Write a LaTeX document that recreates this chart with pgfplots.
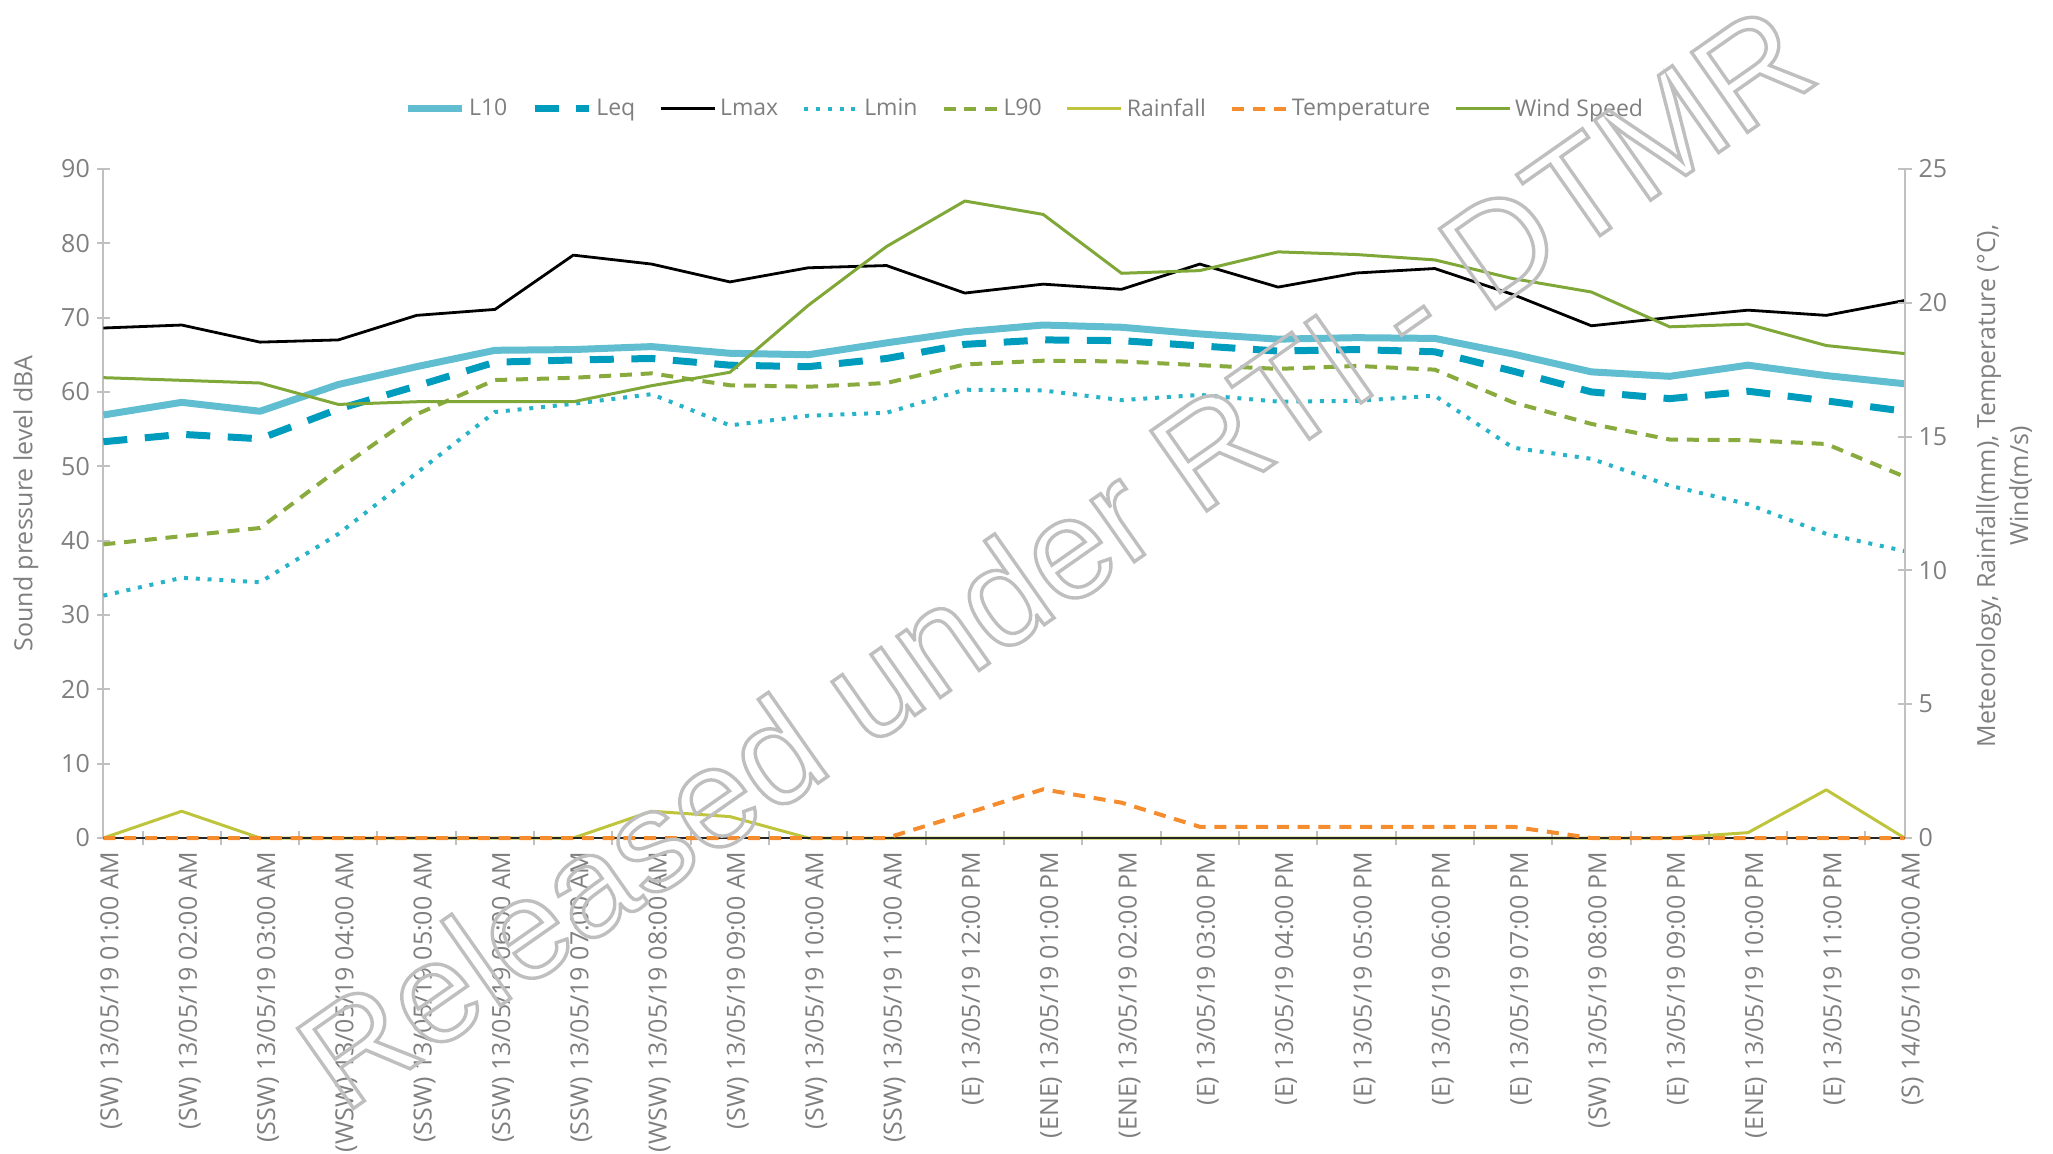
\documentclass[border=0pt]{standalone}
\usepackage{fontspec}
\setmainfont{Open Sans}
\newfontfamily\wmfont{Liberation Sans}
\usepackage{pgfplots}
\pgfplotsset{compat=1.18}
\usepackage{pgfplotstable}
\definecolor{cL10}{HTML}{60BED0}
\definecolor{cLeq}{HTML}{009CBE}
\definecolor{cLmin}{HTML}{28B4C8}
\definecolor{cL90}{HTML}{89AA3C}
\definecolor{cWind}{HTML}{80A838}
\definecolor{cRain}{HTML}{BEC43C}
\definecolor{cTemp}{HTML}{F58C2D}
\definecolor{axisgray}{HTML}{C0C0C0}
\definecolor{labgray}{HTML}{7F7F7F}
\definecolor{wmgray}{HTML}{BFBFBF}
\pgfplotstableread{
i L10 Leq Lmax Lmin L90 Rain Temp Wind
0 56.9 53.3 68.6 32.6 39.5 0 0 17.2
1 58.6 54.3 69.0 35.0 40.6 1.0 0 17.1
2 57.4 53.7 66.7 34.4 41.7 0 0 17.0
3 61.0 57.7 67.0 40.9 49.6 0 0 16.2
4 63.4 60.8 70.3 49.1 57.0 0 0 16.3
5 65.6 64.0 71.1 57.3 61.6 0 0 16.3
6 65.7 64.3 78.4 58.4 61.9 0 0 16.3
7 66.1 64.5 77.2 59.7 62.5 1.0 0 16.9
8 65.2 63.6 74.8 55.5 60.9 0.8 0 17.4
9 65.0 63.4 76.7 56.8 60.7 0 0 19.9
10 66.6 64.5 77.0 57.2 61.2 0 0 22.1
11 68.1 66.4 73.3 60.3 63.7 0 0.9 23.8
12 69.0 67.0 74.5 60.2 64.2 0 1.82 23.3
13 68.7 66.9 73.8 58.9 64.1 0 1.32 21.1
14 67.8 66.2 77.2 59.6 63.6 0 0.42 21.2
15 67.1 65.5 74.1 58.7 63.1 0 0.42 21.9
16 67.3 65.7 76.0 58.8 63.5 0 0.42 21.8
17 67.2 65.4 76.6 59.5 63.0 0 0.42 21.6
18 65.1 62.8 73.1 52.5 58.6 0 0.42 20.9
19 62.7 60.0 68.9 51.0 55.7 0 0 20.4
20 62.1 59.1 70.0 47.4 53.6 0 0 19.1
21 63.6 60.1 71.0 44.9 53.5 0.2 0 19.2
22 62.2 58.8 70.3 40.9 53.0 1.8 0 18.4
23 61.1 57.4 72.3 38.6 48.6 0 0 18.1
}\data
\pgfplotsset{
  sL10/.style={color=cL10, line width=3.5pt, line join=round},
  sLeq/.style={color=cLeq, line width=3.5pt, dash pattern=on 12pt off 8.8pt},
  sLmax/.style={color=black, line width=1.4pt, line join=round},
  sLmin/.style={color=cLmin, line width=2pt, dash pattern=on 2pt off 3.9pt},
  sL90/.style={color=cL90, line width=2pt, dash pattern=on 6pt off 4.4pt},
  sRain/.style={color=cRain, line width=1.5pt, line join=round},
  sTemp/.style={color=cTemp, line width=2pt, dash pattern=on 6pt off 4.4pt},
  sWind/.style={color=cWind, line width=1.5pt, line join=round},
  common/.style={
    at={(0,0)}, anchor=south west,
    scale only axis, width=900.6pt, height=334.55pt,
    xmin=0, xmax=23,
    clip=false,
    tick align=center,
    every tick/.style={draw=axisgray, line width=1pt},
    axis line style={draw=axisgray, line width=1pt},
    tick label style={text=labgray, font=\fontsize{12.5}{15}\selectfont},
    /pgf/number format/assume math mode=true,
  },
}
\begin{document}
\begin{tikzpicture}[font=\fontsize{12.5}{15}\selectfont]
\begin{axis}[
  common,
  major tick length=6.5pt,
  ymin=0, ymax=90,
  axis lines*=left,
  ytick={0,10,...,90},
  xtick={0,...,23},
  xticklabels={{(SW) 13/05/19 01:00 AM},{(SW) 13/05/19 02:00 AM},{(SSW) 13/05/19 03:00 AM},{(WSW) 13/05/19 04:00 AM},{(SSW) 13/05/19 05:00 AM},{(SSW) 13/05/19 06:00 AM},{(SSW) 13/05/19 07:00 AM},{(WSW) 13/05/19 08:00 AM},{(SW) 13/05/19 09:00 AM},{(SW) 13/05/19 10:00 AM},{(SSW) 13/05/19 11:00 AM},{(E) 13/05/19 12:00 PM},{(ENE) 13/05/19 01:00 PM},{(ENE) 13/05/19 02:00 PM},{(E) 13/05/19 03:00 PM},{(E) 13/05/19 04:00 PM},{(E) 13/05/19 05:00 PM},{(E) 13/05/19 06:00 PM},{(E) 13/05/19 07:00 PM},{(SW) 13/05/19 08:00 PM},{(E) 13/05/19 09:00 PM},{(ENE) 13/05/19 10:00 PM},{(E) 13/05/19 11:00 PM},{(S) 14/05/19 00:00 AM}},
  xtick style={draw=none},
  xticklabel style={rotate=90, anchor=east, yshift=-4pt},
  ylabel={Sound pressure level dBA},
  every axis y label/.style={at={(axis description cs:0,0.5)}, xshift=-38.7pt, rotate=90, anchor=center, text=labgray, font=\fontsize{12.5}{15}\selectfont},
]
\addplot[sL10] table[x=i, y=L10] {\data};
\addplot[sLeq] table[x=i, y=Leq] {\data};
\addplot[sLmax] table[x=i, y=Lmax] {\data};
\addplot[sLmin] table[x=i, y=Lmin] {\data};
\addplot[sL90] table[x=i, y=L90] {\data};
\end{axis}
\begin{axis}[
  common,
  major tick length=7pt,
  ymin=0, ymax=25,
  axis y line*=right, axis x line*=bottom,
  ytick={0,5,...,25},
  xtick={0.5,1.5,...,22.5}, xticklabels={},
  ylabel={Meteorology, Rainfall(mm), Temperature (°C),\\ Wind(m/s)},
  every axis y label/.style={at={(axis description cs:1,0.526)}, xshift=49.7pt, rotate=90, anchor=center, align=center, text=labgray, font=\fontsize{12.5}{16.5}\selectfont},
  legend columns=-1,
  legend style={at={(axis description cs:0.512,1.0897)}, anchor=center, draw=none, fill=none, text=labgray, font=\fontsize{11.5}{14}\selectfont, /tikz/every even column/.append style={column sep=10pt}},
  legend image code/.code={\draw[#1] (0pt,0pt) -- (27pt,0pt);},
]
\addlegendimage{sL10}\addlegendentry{L10}
\addlegendimage{sLeq}\addlegendentry{Leq}
\addlegendimage{sLmax}\addlegendentry{Lmax}
\addlegendimage{sLmin}\addlegendentry{Lmin}
\addlegendimage{sL90}\addlegendentry{L90}
\addplot[sRain, forget plot] table[x=i, y=Rain] {\data};
\addplot[color=black!85, line width=1.4pt, forget plot] table[x=i, y expr=0] {\data};
\addplot[sTemp, forget plot] table[x=i, y=Temp] {\data};
\addplot[sWind, forget plot] table[x=i, y=Wind] {\data};
\addlegendimage{sRain}\addlegendentry{Rainfall}
\addlegendimage{sTemp}\addlegendentry{Temperature}
\addlegendimage{sWind}\addlegendentry{Wind Speed}
\end{axis}
\node[rotate=35, text=wmgray, font=\wmfont\fontsize{71}{71}\selectfont, inner sep=0pt] at (475.3pt,141pt) {\special{pdf:literal direct 0.75 0.75 0.75 RG 1.7 w 1 Tr}Released under RTI - DTMR\special{pdf:literal direct 0 Tr}};
\pgfresetboundingbox
\useasboundingbox (-51.7pt,-157.5pt) rectangle (974.8pt,419pt);
\end{tikzpicture}
\end{document}
